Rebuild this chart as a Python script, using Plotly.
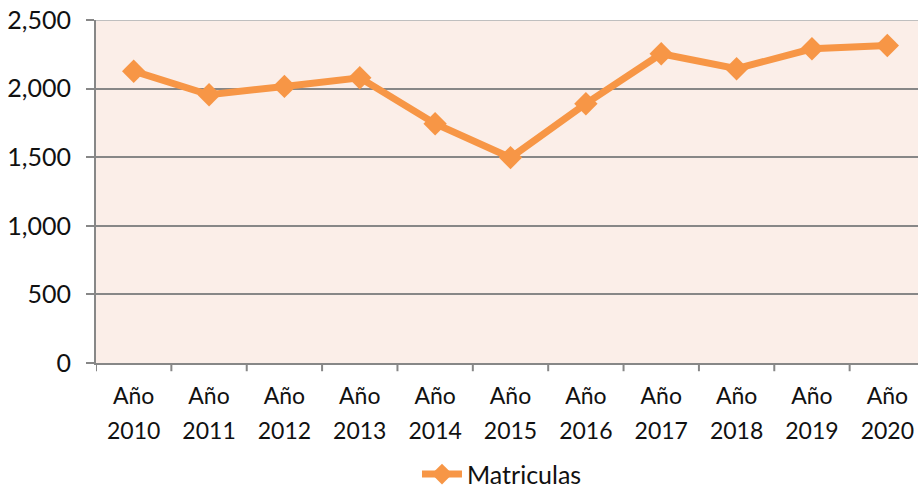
import plotly.graph_objects as go

years = ["2010", "2011", "2012", "2013", "2014", "2015", "2016", "2017", "2018", "2019", "2020"]
year_prefix = ["Año"] * len(years)
matriculas = [2127, 1955, 2016, 2079, 1744, 1497, 1890, 2254, 2145, 2290, 2314]
y_ticks = [0, 500, 1000, 1500, 2000, 2500]
y_tick_text = ["0", "500", "1,000", "1,500", "2,000", "2,500"]

ORANGE = "#F79646"
GRID = "#878787"
FONT = "Lato"
XRANGE = [-0.5, 10.407]

idx = list(range(len(years)))

fig = go.Figure()
fig.add_trace(go.Scatter(
    x=idx,
    y=matriculas,
    mode="lines+markers",
    name="Matriculas",
    line=dict(color=ORANGE, width=7),
    marker=dict(symbol="diamond", size=18, color=ORANGE),
))
# invisible companion trace so the second (year) label axis is drawn
fig.add_trace(go.Scatter(
    x=idx, y=matriculas, xaxis="x2", mode="none", showlegend=False, hoverinfo="skip",
))

fig.update_layout(
    width=918, height=490,
    margin=dict(l=96, r=0, t=20, b=127),
    paper_bgcolor="white",
    plot_bgcolor="#FBEEE8",
    font=dict(family=FONT, size=23, color="#111111"),
    showlegend=True,
    legend=dict(orientation="h", x=0.3905, xanchor="left",
                yref="container", y=0.032, yanchor="middle",
                font=dict(size=25), itemwidth=40),
    xaxis=dict(
        range=XRANGE,
        tickmode="array", tickvals=idx, ticktext=year_prefix,
        showgrid=False,
        showline=True, linecolor=GRID, linewidth=2,
        ticks="", zeroline=False,
        ticklabelstandoff=11,
    ),
    xaxis2=dict(
        range=XRANGE, overlaying="x", side="bottom",
        tickmode="array", tickvals=idx, ticktext=years,
        showgrid=False, showline=False, ticks="", zeroline=False,
        ticklabelstandoff=52,
    ),
    yaxis=dict(
        range=[0, 2500],
        tickmode="array", tickvals=y_ticks, ticktext=y_tick_text,
        showgrid=True, gridcolor=GRID, gridwidth=2,
        showline=True, linecolor=GRID, linewidth=2,
        ticks="outside", ticklen=8, tickcolor=GRID, tickwidth=2,
        ticklabelstandoff=10, ticklabeloverflow="allow",
        tickfont=dict(size=25),
        zeroline=False,
    ),
)

# lighter top border line
fig.add_shape(type="line", xref="paper", yref="y", x0=0, x1=1, y0=2500, y1=2500,
              line=dict(color="#BFBFBF", width=2))

# x-axis tick marks at category boundaries (Excel style)
for b in [i - 0.5 for i in range(len(years) + 1)]:
    fig.add_shape(type="line", xref="x", yref="paper", x0=b, x1=b, y0=0, y1=-0.024,
                  line=dict(color=GRID, width=2))

fig.write_html(
    "out.html",
    config={"displayModeBar": False},
    post_script="document.body.style.margin='0';document.body.style.overflow='hidden';",
)
